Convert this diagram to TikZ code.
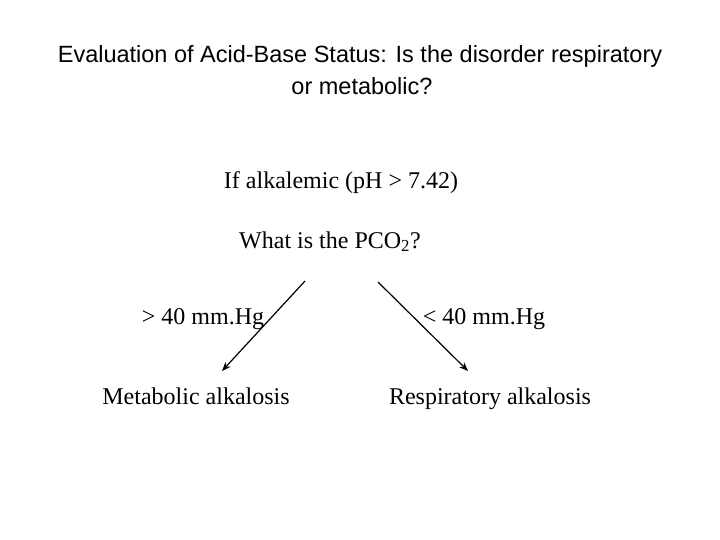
\documentclass[tikz,border=0pt]{standalone}
\usepackage{fontspec}
\setmainfont{Liberation Serif}
\newfontfamily\arial{Liberation Sans}
\usetikzlibrary{arrows.meta}
\begin{document}
\begin{tikzpicture}[x=1pt,y=-1pt,
  tt/.style={font=\arial\fontsize{23.5}{32}\selectfont,inner sep=0,anchor=base},
  bt/.style={font=\fontsize{24}{28}\selectfont,inner sep=0,anchor=base},
  arr/.style={line width=1.2pt,-{Stealth[length=9pt,width=7pt]}}]
\useasboundingbox (0,0) rectangle (720,540);
\node[tt] (title) at (360,63) {Evaluation of Acid-Base Status: Is the disorder respiratory};
\node[tt] (title2) at (362,95) {or metabolic?};
\node[bt] (alk) at (341,189) {If alkalemic (pH {\textgreater} 7.42)};
\node[bt] (q) at (330,248) {What is the PCO\textsubscript{2}?};
\node[bt] (gt) at (203,324) {{\textgreater} 40 mm.Hg};
\node[bt] (lt) at (484,324) {{\textless} 40 mm.Hg};
\node[bt] (ma) at (196,404) {Metabolic alkalosis};
\node[bt] (ra) at (490,404) {Respiratory alkalosis};
\coordinate (l1) at (305,281); \coordinate (l2) at (222,371);
\coordinate (r1) at (378,282); \coordinate (r2) at (468,371);
\draw[arr] (l1) -- (l2);
\draw[arr] (r1) -- (r2);
\end{tikzpicture}
\end{document}
